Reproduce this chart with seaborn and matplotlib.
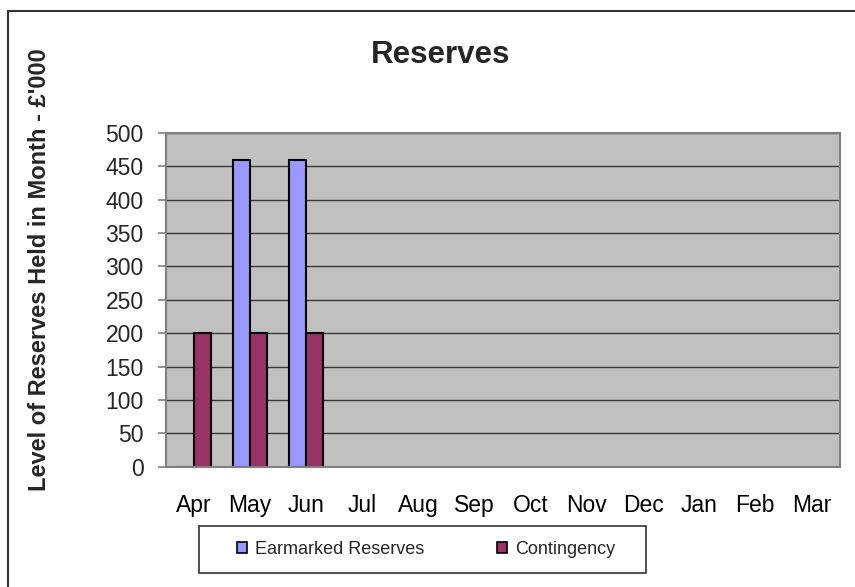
import numpy as np
import pandas as pd
import matplotlib
matplotlib.use("Agg")
import matplotlib.pyplot as plt
import seaborn as sns
from matplotlib.patches import Patch, Rectangle

months = ["Apr", "May", "Jun", "Jul", "Aug", "Sep", "Oct", "Nov", "Dec", "Jan", "Feb", "Mar"]
earmarked = [0, 460, 460, np.nan, np.nan, np.nan, np.nan, np.nan, np.nan, np.nan, np.nan, np.nan]
contingency = [200, 200, 200, np.nan, np.nan, np.nan, np.nan, np.nan, np.nan, np.nan, np.nan, np.nan]
series = ["Earmarked Reserves", "Contingency"]
colors = ["#9999FF", "#993366"]
yticks = [0, 50, 100, 150, 200, 250, 300, 350, 400, 450, 500]

df = pd.DataFrame({
    "Month": months * 2,
    "Series": [series[0]] * len(months) + [series[1]] * len(months),
    "Value": earmarked + contingency,
})

sns.set_style("white")
plt.rcParams["font.family"] = ["Liberation Sans", "DejaVu Sans"]

fig = plt.figure(figsize=(8.55, 5.87), dpi=100)
ax = fig.add_axes([166 / 855, 1 - 466.7 / 587, (839.5 - 166) / 855, (466.7 - 133) / 587])

sns.barplot(data=df, x="Month", y="Value", hue="Series", order=months, hue_order=series,
            palette=colors, width=0.6, edgecolor="black", linewidth=1.5, saturation=1,
            ax=ax, legend=False, errorbar=None)

ax.set_facecolor("#C0C0C0")
ax.set_ylim(0, 500)
ax.set_xlim(-0.5, len(months) - 0.5)
ax.set_yticks(yticks)
ax.set_yticklabels([str(v) for v in yticks], fontsize=16.5)
ax.set_xticks(range(len(months)))
ax.set_xticklabels(months, fontsize=16.5)
ax.set_xticks(np.arange(-0.5, len(months), 1), minor=True)
ax.tick_params(axis="x", which="major", length=0, pad=20, colors="black")
ax.tick_params(axis="x", which="minor", length=6, width=1.2, color="#808080", direction="out")
ax.tick_params(axis="y", which="major", length=6, width=1.2, color="#808080", pad=10,
               direction="out", left=True)
ax.set_axisbelow(True)
ax.yaxis.grid(True, color="#3a3a3a", linewidth=1.0)
ax.xaxis.grid(False)
for s in ax.spines.values():
    s.set_visible(True)
    s.set_color("#808080")
    s.set_linewidth(1.5)
ax.set_xlabel("")
ax.set_ylabel("")

fig.text(441 / 855, 1 - 62.7 / 587, "Reserves", fontsize=22.5, fontweight="bold",
         ha="center", va="baseline")
fig.text(39.5 / 855, 1 - 269.5 / 587, "Level of Reserves Held in Month - £'000", fontsize=17,
         fontweight="bold", rotation=90, ha="center", va="center")

# outer chart frame (only left and top edges fall inside the image)
fig.patches.append(Rectangle((8 / 855, -0.5), 1.5, 1.5 - 11 / 587, transform=fig.transFigure,
                             fill=False, edgecolor="#333333", linewidth=1.5, zorder=0))
# legend frame
fig.patches.append(Rectangle((199 / 855, 1 - 573 / 587), 447 / 855, 47 / 587,
                             transform=fig.transFigure, facecolor="white",
                             edgecolor="#333333", linewidth=1.2, zorder=1))
handles = [Patch(facecolor=c, edgecolor="black", linewidth=1.2) for c in colors]
fig.legend(handles, series, loc="center", bbox_to_anchor=(426 / 855, 1 - 549.5 / 587),
           ncol=2, frameon=False, fontsize=13, handlelength=0.55, handleheight=0.55,
           handletextpad=0.45, columnspacing=4.0)

fig.savefig("out.png", dpi=100)
